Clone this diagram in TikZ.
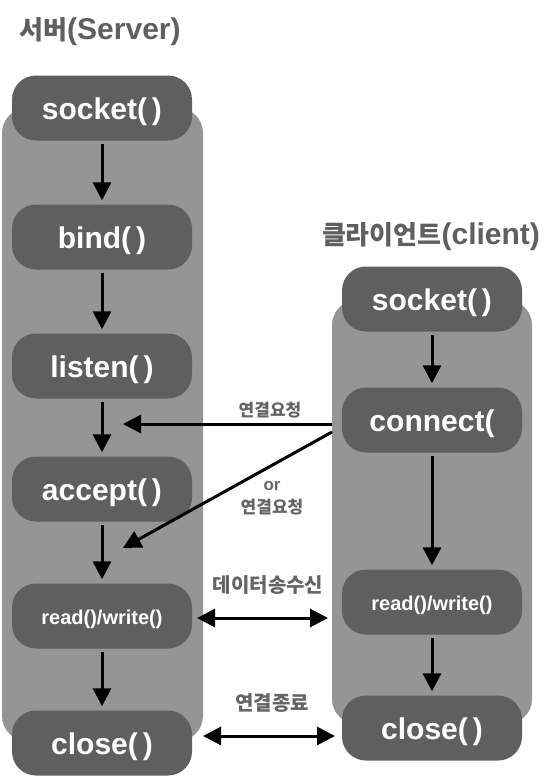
\documentclass[tikz,border=0pt]{standalone}
\usepackage{fontspec}
\setmainfont{Liberation Sans}
\newfontfamily\kr{Noto Sans CJK KR}
\usetikzlibrary{arrows.meta}
\definecolor{bggray}{RGB}{149,149,149}
\definecolor{nodegray}{RGB}{95,95,95}
\definecolor{labgray}{RGB}{100,100,100}
\begin{document}
\begin{tikzpicture}[x=1pt,y=-1pt,
  fn/.style={fill=nodegray, rounded corners=24pt, minimum width=180pt, minimum height=65pt, text=white, font=\bfseries\fontsize{30}{32}\selectfont, inner sep=0pt, text height=28pt, text depth=6pt},
  fnsmall/.style={fn, font=\bfseries\fontsize{20}{22}\selectfont, text height=21pt, text depth=4pt},
  tip/.tip={Triangle[length=18pt,width=18pt]},
  flow/.style={-tip, line width=3pt, shorten <=3pt, shorten >=4pt},
  xflow/.style={-tip, line width=3pt},
  dflow/.style={tip-tip, line width=3pt},
  lab/.style={text=labgray, inner sep=0pt, align=center},
  ttl/.style={text=nodegray, inner sep=0pt, font=\bfseries\fontsize{30}{32}\selectfont}]
\useasboundingbox (0,0) rectangle (556,780);
% backgrounds
\fill[bggray, rounded corners=25pt] (2,108) rectangle (203,741);
\fill[bggray, rounded corners=25pt] (332,300) rectangle (532,724);
% titles
\node[ttl] (tserver) at (100,32) {{\kr\fontsize{26}{28}\selectfont 서버}(Server)};
\node[ttl] (tclient) at (431,237) {{\kr\fontsize{26}{28}\selectfont 클라이언트}(client)};
% server nodes
\node[fn] (s1) at (102,108) {socket(\,)};
\node[fn] (s2) at (102,237) {bind(\,)};
\node[fn] (s3) at (102,366) {listen(\,)};
\node[fn] (s4) at (102,489) {accept(\,)};
\node[fnsmall] (s5) at (102,616) {read()/write()};
\node[fn] (s6) at (102,743) {close(\,)};
% client nodes
\node[fn] (c1) at (432,299) {socket(\,)};
\node[fn] (c2) at (432,420) {connect(};
\node[fnsmall] (c3) at (432,602) {read()/write()};
\node[fn] (c4) at (432,728) {close(\,)};
% server flow
\draw[flow] (s1) -- (s2);
\draw[flow] (s2) -- (s3);
\draw[flow] (s3) -- (s4);
\draw[flow] (s4) -- (s5);
\draw[flow] (s5) -- (s6);
% client flow
\draw[flow] (c1) -- (c2);
\draw[flow] (c2) -- (c3);
\draw[flow] (c3) -- (c4);
% cross connectors
\coordinate (r1s) at (332,424);
\coordinate (r1e) at (123,424);
\coordinate (r2s) at (332,432);
\coordinate (r2e) at (123,548);
\coordinate (d1a) at (197,618);
\coordinate (d1b) at (328,618);
\coordinate (d2a) at (203,736);
\coordinate (d2b) at (335,736);
\draw[xflow] (r1s) -- (r1e);
\draw[xflow] (r2s) -- (r2e);
\draw[dflow] (d1a) -- (d1b);
\draw[dflow] (d2a) -- (d2b);
% labels
\node[lab, font=\kr\bfseries\fontsize{17}{20}\selectfont] (l1) at (270,410) {연결요청};
\node[lab, font=\bfseries\fontsize{17}{23}\selectfont] (l2) at (272,498) {or\\{\kr 연결요청}};
\node[lab, font=\kr\bfseries\fontsize{20}{22}\selectfont] (l3) at (268,585) {데이터송수신};
\node[lab, font=\kr\bfseries\fontsize{20}{22}\selectfont] (l4) at (272,703) {연결종료};
\end{tikzpicture}
\end{document}
